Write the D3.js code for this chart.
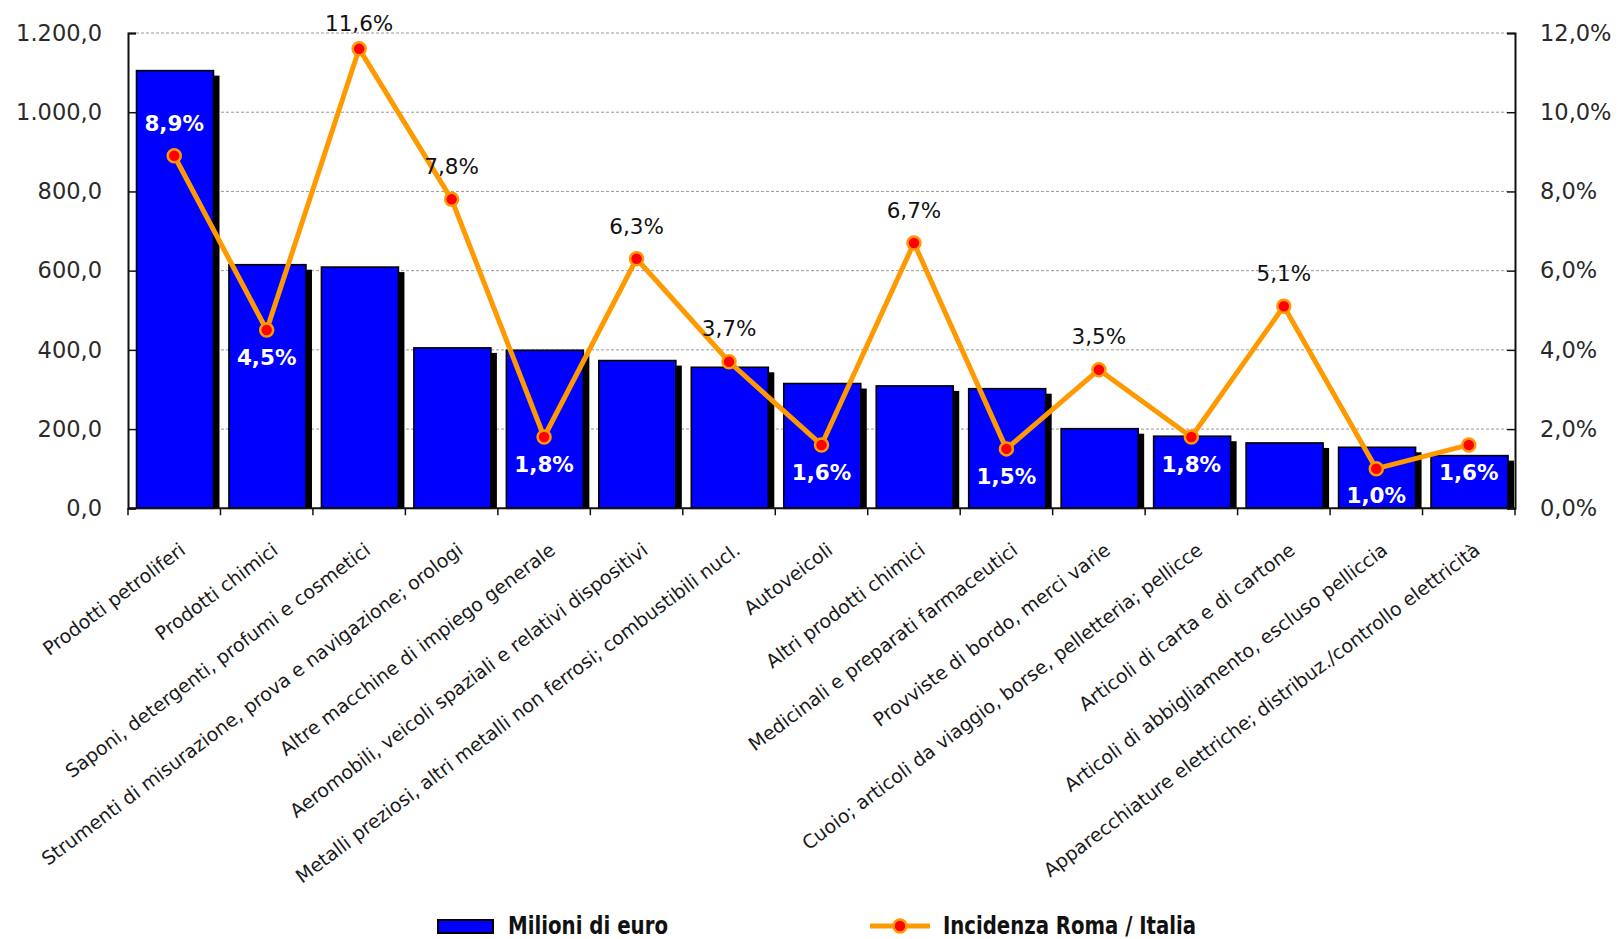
<!DOCTYPE html>
<html>
<head>
<meta charset="utf-8">
<script src="https://cdn.jsdelivr.net/npm/d3@7"></script>
<style>
  html, body { margin: 0; padding: 0; background: #fff; }
  svg { display: block; }
</style>
</head>
<body>
<svg id="chart" width="1619" height="939"></svg>
<script>
const categories = [
  "Prodotti petroliferi",
  "Prodotti chimici",
  "Saponi, detergenti, profumi e cosmetici",
  "Strumenti di misurazione, prova e navigazione; orologi",
  "Altre macchine di impiego generale",
  "Aeromobili, veicoli spaziali e relativi dispositivi",
  "Metalli preziosi, altri metalli non ferrosi; combustibili nucl.",
  "Autoveicoli",
  "Altri prodotti chimici",
  "Medicinali e preparati farmaceutici",
  "Provviste di bordo, merci varie",
  "Cuoio; articoli da viaggio, borse, pelletteria; pellicce",
  "Articoli di carta e di cartone",
  "Articoli di abbigliamento, escluso pelliccia",
  "Apparecchiature elettriche; distribuz./controllo elettricità"
];
const milioniEuro = [1105, 615, 609, 405, 399, 373, 356, 315, 309, 302, 201, 182, 165, 154, 133];
const incidenza = [8.9, 4.5, 11.6, 7.8, 1.8, 6.3, 3.7, 1.6, 6.7, 1.5, 3.5, 1.8, 5.1, 1.0, 1.6];
const labelPosition = ["above","below","above","above","below","above","above","below","above","below","above","below","above","below","below"];
const leftTicks = [0, 200, 400, 600, 800, 1000, 1200];
const rightTicks = [0, 2, 4, 6, 8, 10, 12];
const seriesNames = ["Milioni di euro", "Incidenza Roma / Italia"];

const it = d3.formatLocale({decimal: ",", thousands: ".", grouping: [3], currency: ["€", ""]});
const fmtLeft = it.format(",.1f");
const fmtRight = v => it.format(".1f")(v) + "%";
const fmtLabel = v => it.format(".1f")(v) + "%";

const svg = d3.select("#chart");
const L = 128, R = 1515, T = 33, B = 508.3;

const x = d3.scaleBand().domain(categories).range([L, R]).padding(0);
const yL = d3.scaleLinear().domain([0, 1200]).range([B, T]);
const yR = d3.scaleLinear().domain([0, 12]).range([B, T]);
const bw = x.bandwidth();

const FONT = "'DejaVu Sans', sans-serif";

// gridlines
svg.append("g").selectAll("line").data(leftTicks.filter(d => d > 0)).join("line")
  .attr("x1", L + 8).attr("x2", R - 8)
  .attr("y1", d => yL(d)).attr("y2", d => yL(d))
  .attr("stroke", "#9a9a9a").attr("stroke-width", 1).attr("stroke-dasharray", "3,2");

// bars: shadow then bar
const barOff = 8.5, barW = 77, shX = 6, shY = 5;
svg.append("g").selectAll("rect").data(categories).join("rect")
  .attr("x", d => x(d) + barOff + shX)
  .attr("y", (d, i) => yL(milioniEuro[i]) + shY)
  .attr("width", barW)
  .attr("height", (d, i) => Math.max(0, B - yL(milioniEuro[i]) - shY))
  .attr("fill", "#000");
svg.append("g").selectAll("rect").data(categories).join("rect")
  .attr("x", d => x(d) + barOff)
  .attr("y", (d, i) => yL(milioniEuro[i]))
  .attr("width", barW)
  .attr("height", (d, i) => B - yL(milioniEuro[i]))
  .attr("fill", "#0000ff").attr("stroke", "#000").attr("stroke-width", 1.6);

// axes
const gL = svg.append("g").attr("transform", `translate(${L},0)`)
  .call(d3.axisLeft(yL).tickValues(leftTicks).tickFormat(fmtLeft).tickSize(-8).tickPadding(26));
const gR = svg.append("g").attr("transform", `translate(${R},0)`)
  .call(d3.axisRight(yR).tickValues(rightTicks).tickFormat(fmtRight).tickSize(-8).tickPadding(25));
[gL, gR].forEach(g => {
  g.select(".domain").attr("stroke", "#111").attr("stroke-width", 2);
  g.selectAll(".tick line").attr("stroke", "#111").attr("stroke-width", 1.5);
  g.selectAll(".tick text").attr("font-family", FONT).attr("font-size", 22.5).attr("fill", "#2a2a2a");
});

const gX = svg.append("g").attr("transform", `translate(0,${B})`);
gX.append("line").attr("x1", L).attr("x2", R).attr("y1", 0).attr("y2", 0)
  .attr("stroke", "#111").attr("stroke-width", 2);
const boundaries = categories.map(c => x(c)).concat([R]);
gX.selectAll("line.t").data(boundaries).join("line").attr("class", "t")
  .attr("x1", d => d).attr("x2", d => d).attr("y1", 0).attr("y2", 7)
  .attr("stroke", "#111").attr("stroke-width", 1.5);
gX.selectAll("text").data(categories).join("text")
  .attr("transform", d => `translate(${x(d) + bw / 2 + 4},${33}) rotate(-37)`)
  .attr("text-anchor", "end").attr("dy", "0.75em")
  .attr("font-family", FONT).attr("font-size", 19).attr("fill", "#1a1a1a")
  .text(d => d);

// line series
const cx = d => x(d) + bw / 2;
const line = d3.line().x((d, i) => cx(categories[i])).y(d => yR(d));
svg.append("path").datum(incidenza).attr("d", line)
  .attr("fill", "none").attr("stroke", "#ff9900").attr("stroke-width", 5).attr("stroke-linejoin", "round");
svg.append("g").selectAll("circle").data(incidenza).join("circle")
  .attr("cx", (d, i) => cx(categories[i])).attr("cy", d => yR(d))
  .attr("r", 6.5).attr("fill", "#ff0000").attr("stroke", "#ff9900").attr("stroke-width", 2.5);

// data labels
svg.append("g").selectAll("text").data(incidenza).join("text")
  .each(function(d, i) {
    const my = yR(d);
    const ly = labelPosition[i] === "above" ? Math.max(my - 33, T - 10) : my + 27;
    const inside = ly > yL(milioniEuro[i]);
    d3.select(this)
      .attr("x", cx(categories[i])).attr("y", ly).attr("dy", "0.36em")
      .attr("text-anchor", "middle")
      .attr("font-family", FONT).attr("font-size", 21.5)
      .attr("font-weight", inside ? "bold" : "normal")
      .attr("fill", inside ? "#ffffff" : "#111")
      .text(fmtLabel(d));
  });

// legend
const LFONT = "'Liberation Sans Narrow', 'DejaVu Sans Condensed', sans-serif";
const lg = svg.append("g");
lg.append("rect").attr("x", 438).attr("y", 920).attr("width", 55).attr("height", 13)
  .attr("fill", "#0000ff").attr("stroke", "#000").attr("stroke-width", 2);
lg.append("text").attr("x", 508).attr("y", 926).attr("dy", "0.35em").attr("font-family", LFONT)
  .attr("font-size", 24).attr("font-weight", "bold").attr("fill", "#111")
  .attr("textLength", 160).attr("lengthAdjust", "spacingAndGlyphs").text(seriesNames[0]);
lg.append("line").attr("x1", 870).attr("x2", 930).attr("y1", 926).attr("y2", 926)
  .attr("stroke", "#ff9900").attr("stroke-width", 5);
lg.append("circle").attr("cx", 900).attr("cy", 926).attr("r", 6.5)
  .attr("fill", "#ff0000").attr("stroke", "#ff9900").attr("stroke-width", 2.5);
lg.append("text").attr("x", 943).attr("y", 926).attr("dy", "0.35em").attr("font-family", LFONT)
  .attr("font-size", 24).attr("font-weight", "bold").attr("fill", "#111")
  .attr("textLength", 253).attr("lengthAdjust", "spacingAndGlyphs").text(seriesNames[1]);
</script>
</body>
</html>
